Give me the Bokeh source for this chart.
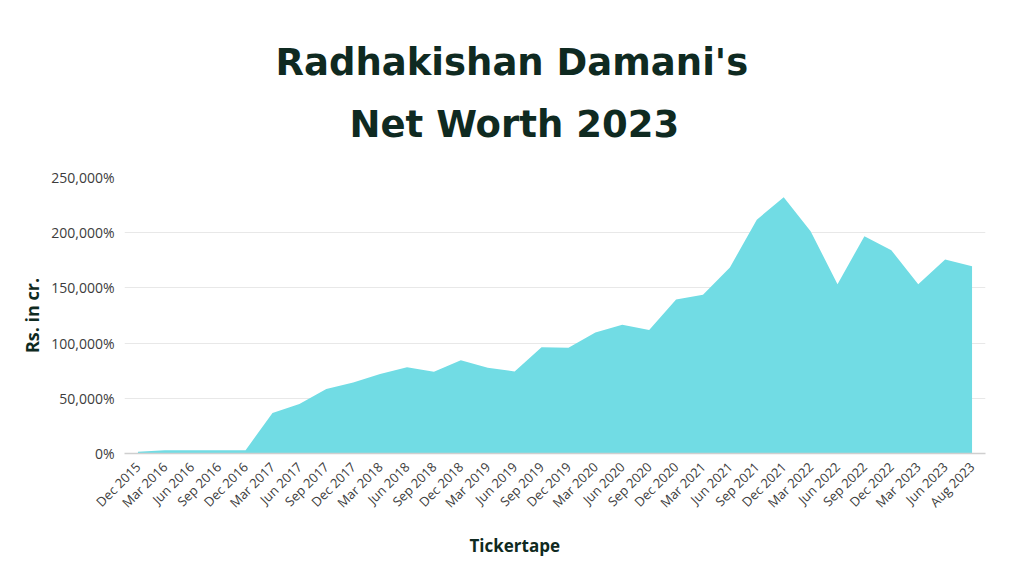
import math
from bokeh.plotting import figure
from bokeh.models import FactorRange, Range1d, Title, FixedTicker
from bokeh.embed import file_html
from bokeh.resources import INLINE

periods = ["Dec 2015", "Mar 2016", "Jun 2016", "Sep 2016", "Dec 2016",
           "Mar 2017", "Jun 2017", "Sep 2017", "Dec 2017",
           "Mar 2018", "Jun 2018", "Sep 2018", "Dec 2018",
           "Mar 2019", "Jun 2019", "Sep 2019", "Dec 2019",
           "Mar 2020", "Jun 2020", "Sep 2020", "Dec 2020",
           "Mar 2021", "Jun 2021", "Sep 2021", "Dec 2021",
           "Mar 2022", "Jun 2022", "Sep 2022", "Dec 2022",
           "Mar 2023", "Jun 2023", "Aug 2023"]
net_worth = [1500, 3000, 3000, 3000, 3000,
             36700, 44800, 58400, 64400,
             71900, 78200, 74000, 84500,
             77600, 74300, 96300, 95900,
             109500, 116700, 111900, 139600,
             143800, 168500, 211800, 232200,
             201300, 153400, 196800, 184100,
             153400, 175700, 169700]
y_ticks = [0, 50000, 100000, 150000, 200000, 250000]
y_tick_labels = ["0%", "50,000%", "100,000%", "150,000%", "200,000%", "250,000%"]

title_line1 = "Radhakishan Damani's"
title_line2 = "Net Worth 2023"
x_label = "Tickertape"
y_label = "Rs. in cr."

DARK = "#0f2a21"
FILL = "#71dce4"

p = figure(width=1008, height=568, output_backend="svg", toolbar_location=None,
           x_range=FactorRange(*periods, range_padding=0),
           y_range=Range1d(0, 250000),
           min_border_left=124, min_border_right=23,
           min_border_top=177, min_border_bottom=114)
p.outline_line_color = None
p.background_fill_color = "white"
p.border_fill_color = "white"

p.varea(x=periods, y1=[0] * len(periods), y2=net_worth,
        fill_color=FILL, fill_alpha=1.0)

# y axis
p.yaxis.ticker = FixedTicker(ticks=y_ticks)
p.yaxis.major_label_overrides = {t: l for t, l in zip(y_ticks, y_tick_labels)}
p.yaxis.axis_line_color = None
p.yaxis.major_tick_line_color = None
p.yaxis.minor_tick_line_color = None
p.yaxis.major_label_text_font = "Open Sans"
p.yaxis.major_label_text_font_size = "14px"
p.yaxis.major_label_text_color = "#3c3c3c"
p.yaxis.major_label_standoff = 4
p.yaxis.axis_label = y_label
p.yaxis.axis_label_text_font = "Open Sans"
p.yaxis.axis_label_text_font_style = "bold"
p.yaxis.axis_label_text_font_size = "18px"
p.yaxis.axis_label_text_color = DARK
p.yaxis.axis_label_standoff = 4

# x axis
p.xaxis.axis_line_color = "#cfcfcf"
p.xaxis.axis_line_width = 1.5
p.xaxis.major_tick_line_color = None
p.xaxis.minor_tick_line_color = None
p.xaxis.major_label_orientation = math.pi / 4
p.xaxis.major_label_text_font = "Open Sans"
p.xaxis.major_label_text_font_size = "13px"
p.xaxis.major_label_text_color = "#3c3c3c"
p.xaxis.major_label_standoff = 5

p.xgrid.grid_line_color = None
p.ygrid.grid_line_color = "#e8e8e8"
p.ygrid.grid_line_width = 1

# titles
t2 = Title(text=title_line2, align="left", offset=225,
           text_font="DejaVu Sans", text_font_style="bold",
           text_font_size="37px", text_color=DARK, standoff=63)
t1 = Title(text=title_line1, align="left", offset=151,
           text_font="DejaVu Sans", text_font_style="bold",
           text_font_size="37px", text_color=DARK, standoff=-29)
p.add_layout(t2, "above")
p.add_layout(t1, "above")

tb = Title(text=x_label, align="left", offset=345,
           text_font="Open Sans", text_font_style="bold",
           text_font_size="17px", text_color=DARK, standoff=23)
p.add_layout(tb, "below")

open("out.html", "w").write(file_html(p, INLINE))
